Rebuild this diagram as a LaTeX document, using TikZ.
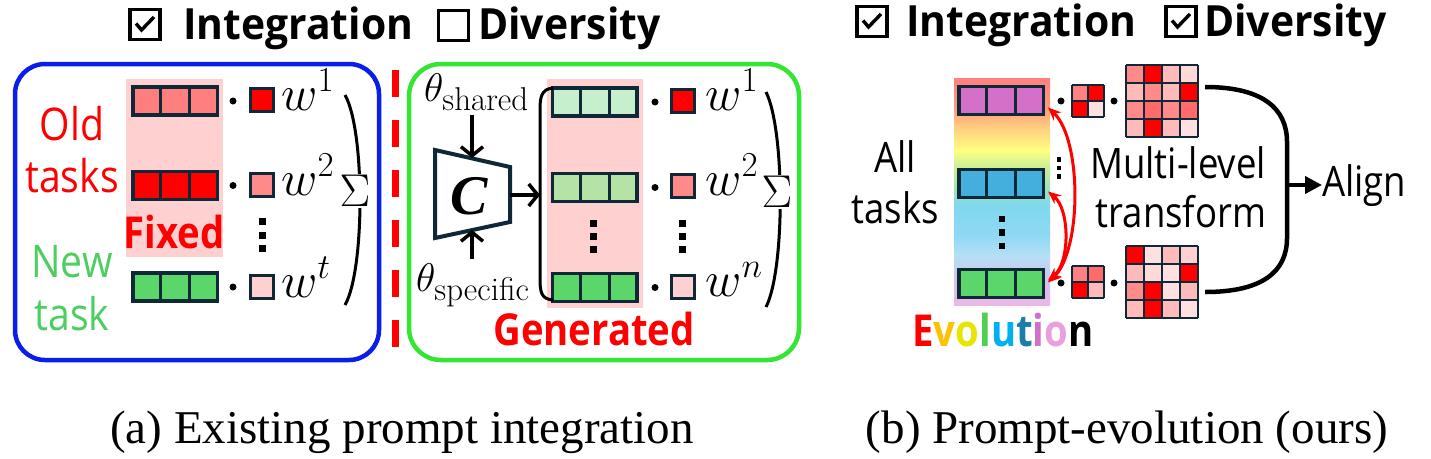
\RequirePackage{fix-cm}
\documentclass[tikz,border=0pt]{standalone}
\usepackage{fontspec}
\usetikzlibrary{arrows.meta}
\newfontfamily\lfont[FakeStretch=0.87]{Open Sans}
\newfontfamily\hfont[FakeStretch=0.95]{Open Sans}
\newfontfamily\capfont{Liberation Serif}
\definecolor{navy}{HTML}{0F2837}
\definecolor{bbox}{HTML}{0A1EEB}
\definecolor{gbox}{HTML}{33E633}
\definecolor{pinkbg}{HTML}{FFD0D0}
\definecolor{rlight}{HTML}{FF7F7F}
\definecolor{rmid}{HTML}{FF8A8A}
\definecolor{gnew}{HTML}{5BD66B}
\definecolor{gtxt}{HTML}{4CCF60}
\definecolor{gl1}{HTML}{C6EFCE}
\definecolor{gl2}{HTML}{B5E3A5}
\definecolor{purp}{HTML}{D570C8}
\definecolor{blu}{HTML}{44AEDD}
\definecolor{sa}{HTML}{FF8080}
\definecolor{sb}{HTML}{FF9A78}
\definecolor{sc}{HTML}{FFC880}
\definecolor{sd}{HTML}{FFFF80}
\definecolor{se}{HTML}{C8EE98}
\definecolor{sf}{HTML}{98E4B8}
\definecolor{sg}{HTML}{80D8EE}
\definecolor{sh}{HTML}{8ED8F4}
\definecolor{si}{HTML}{B4E0F4}
\definecolor{sj}{HTML}{C8CCF0}
\definecolor{sk}{HTML}{D8BEEA}
\definecolor{sl}{HTML}{ECB8E6}
\definecolor{ev1}{HTML}{FF0000}
\definecolor{ev2}{HTML}{FFC000}
\definecolor{ev3}{HTML}{E6E600}
\definecolor{ev4}{HTML}{50D050}
\definecolor{ev5}{HTML}{00B0F0}
\definecolor{ev6}{HTML}{1A7FA8}
\definecolor{ev7}{HTML}{D070C8}
\definecolor{ev8}{HTML}{E8A0E0}
\newcommand\vdsq[4]{\foreach \j in {0,1,2} {\fill ({#1-#4/2},{#2+\j*#3-#4/2}) rectangle ++(#4,#4);}}
\newcommand\drawmat[5]{%
  \foreach \mcc [count=\k from 0] in {#5} {%
    \pgfmathtruncatemacro\mrow{floor(\k/#4)}%
    \pgfmathtruncatemacro\mcol{mod(\k,#4)}%
    \definecolor{mc}{HTML}{\mcc}%
    \fill[mc] ({#1+\mcol*#3},{#2+\mrow*#3}) rectangle ++(#3,#3);%
  }%
  \foreach \i in {0,...,#4} {%
    \draw[navy,line width=2.2pt] ({#1+\i*#3},#2) -- ++(0,{#4*#3});%
    \draw[navy,line width=2.2pt] (#1,{#2+\i*#3}) -- ++({#4*#3},0);%
  }}
\newcommand\chk[1]{\draw[line width=3.4pt,line join=miter] ([shift={(-9pt,1pt)}]#1.center) -- ([shift={(-3.5pt,-5.5pt)}]#1.center) -- ([shift={(9pt,7.5pt)}]#1.center);}
\begin{document}
\begin{tikzpicture}[x=1pt,y=-1pt,
  pbar/.style={draw=navy,line width=3.5pt,minimum width=84.5pt,minimum height=28pt,inner sep=0pt,
    path picture={\draw[navy,line width=3pt]
      ([xshift=-14.5pt]path picture bounding box.north) -- ([xshift=-14.5pt]path picture bounding box.south)
      ([xshift=14.5pt]path picture bounding box.north) -- ([xshift=14.5pt]path picture bounding box.south);}},
  wsq/.style={draw=navy,line width=3pt,minimum size=23pt,inner sep=0pt},
  dotn/.style={circle,fill=black,minimum size=7pt,inner sep=0pt},
  lbl/.style={font=\lfont\fontsize{45}{45}\selectfont,inner sep=0pt,anchor=base},
  blbl/.style={font=\lfont\bfseries\fontsize{44}{44}\selectfont,inner sep=0pt,anchor=base},
  hd/.style={font=\hfont\bfseries\fontsize{43}{43}\selectfont,inner sep=0pt,anchor=base west},
  chkbox/.style={draw=black,line width=3.4pt,minimum size=30pt,inner sep=0pt},
  wl/.style={font=\fontsize{50}{50}\selectfont,inner sep=0pt,anchor=base west},
  sgm/.style={font=\fontsize{46}{46}\selectfont,inner sep=1pt,fill=white},
  captxt/.style={font=\capfont\fontsize{47}{47}\selectfont,inner sep=0pt,anchor=base},
  arr/.style={line width=3.5pt,-{Straight Barb[length=9pt,width=22pt]}},
  redarr/.style={red,line width=3pt,{Stealth[length=13pt,width=11pt]}-{Stealth[length=13pt,width=11pt]}}
]
\useasboundingbox (0,0) rectangle (1431,458);
\fill[white] (0,0) rectangle (1431,458);

% ---------- headers ----------
\node[chkbox] (cb1) at (145,24.5) {};
\chk{cb1}
\node[hd] (h1) at (183,39) {Integration};
\node[chkbox] (cb2) at (453.5,25.5) {};
\node[hd] (h2) at (478,39) {Diversity};
\node[chkbox] (cb3) at (872,21.5) {};
\chk{cb3}
\node[hd] (h3) at (906,36) {Integration};
\node[chkbox] (cb4) at (1181,21.5) {};
\chk{cb4}
\node[hd] (h4) at (1204,36) {Diversity};

% ---------- panel (a) left ----------
\draw[bbox,line width=4.5pt,rounded corners=30pt] (15,64) rectangle (379,360);
\fill[pinkbg] (126,79) rectangle (223,257);
\node[pbar,fill=rlight] (a1) at (175,101) {};
\node[pbar,fill=red] (a2) at (175,185.5) {};
\node[pbar,fill=gnew] (a3) at (175,287) {};
\node[dotn] (ad1) at (233,101) {};
\node[dotn] (ad2) at (233,185.5) {};
\node[dotn] (ad3) at (233,287) {};
\node[wsq,fill=red] (aw1) at (262,100) {};
\node[wsq,fill=rmid] (aw2) at (262,185) {};
\node[wsq,fill=pinkbg] (aw3) at (262,287) {};
\node[wl] (awl1) at (281,110) {$w^{1}$};
\node[wl] (awl2) at (281,195) {$w^{2}$};
\node[wl] (awl3) at (281,297) {$w^{t}$};
\vdsq{262}{221.5}{13.5}{7}
\draw[line width=3pt] (345,95) .. controls (365,130) and (365,270) .. (345,305);
\node[sgm] (sa) at (355,191) {$\Sigma$};
\node[lbl,red] (old1) at (72,140) {Old};
\node[lbl,red] (old2) at (72,192) {tasks};
\node[lbl,text=gtxt] (new1) at (72,277) {New};
\node[lbl,text=gtxt] (new2) at (72,330) {task};
\node[blbl,red] (fixed) at (174,248) {Fixed};

% dashed separator
\draw[red,line width=7pt,dash pattern=on 27pt off 23pt] (395,70) -- (395,347);

% ---------- panel (a) right ----------
\draw[gbox,line width=4.5pt,rounded corners=32pt] (409,64) rectangle (799,360);
\fill[pinkbg] (547,79) rectangle (643,308);
\node[pbar,fill=gl1] (g1) at (594.5,102) {};
\node[pbar,fill=gl2] (g2) at (594.5,187.5) {};
\node[pbar,fill=gnew] (g3) at (594.5,287.5) {};
\node[dotn] (gd1) at (655,102) {};
\node[dotn] (gd2) at (655,187.5) {};
\node[dotn] (gd3) at (655,287.5) {};
\node[wsq,fill=red] (gw1) at (683,101) {};
\node[wsq,fill=rmid] (gw2) at (683,186) {};
\node[wsq,fill=pinkbg] (gw3) at (683,287) {};
\node[wl] (gwl1) at (705,110) {$w^{1}$};
\node[wl] (gwl2) at (705,195) {$w^{2}$};
\node[wl] (gwl3) at (705,296) {$w^{n}$};
\vdsq{593}{223.5}{13}{7}
\vdsq{682}{223.5}{13}{7}
\draw[line width=3pt] (553,88) .. controls (541,89) and (540,98) .. (540,110) -- (540,278) .. controls (540,292) and (541,299) .. (553,300);
\draw[line width=3pt] (766,92) .. controls (785,130) and (785,270) .. (766,307);
\node[sgm] (sb) at (777,192) {$\Sigma$};
\node[blbl,red] (gen) at (594,345) {Generated};
% generator
\draw[navy,line width=4pt,line join=miter] (435,150) -- (510,167) -- (510,222) -- (435,238) -- cycle;
\coordinate (trtop) at (472,158);
\coordinate (trbot) at (472,230);
\coordinate (trright) at (510,195);
\coordinate (brk) at (540,195);
\node[font=\capfont\bfseries\itshape\fontsize{56}{56}\selectfont,inner sep=0pt] (Cl) at (469,196) {C};
\node[font=\fontsize{40}{40}\selectfont,inner sep=0pt,anchor=base west] (thsh) at (424,101)
  {$\theta_{\mbox{\fontsize{33}{33}\selectfont shared}}$};
\node[font=\fontsize{40}{40}\selectfont,inner sep=0pt,anchor=base west] (thsp) at (416,291)
  {$\theta_{\mbox{\fontsize{33}{33}\selectfont specific}}$};
\draw[arr,shorten <=4pt] (thsh.south -| trtop) -- (trtop);
\draw[arr,shorten <=4pt] (thsp.north -| trbot) -- (trbot);
\draw[arr] (trright) -- (brk);

% ---------- panel (b) ----------
\shade[top color=sa,bottom color=sb] (954,78) rectangle (1050,108.4);
\shade[top color=sb,bottom color=sc] (954,108) rectangle (1050,125.4);
\shade[top color=sc,bottom color=sd] (954,125) rectangle (1050,150.4);
\shade[top color=sd,bottom color=se] (954,150) rectangle (1050,168.4);
\shade[top color=se,bottom color=sf] (954,168) rectangle (1050,190.4);
\shade[top color=sf,bottom color=sg] (954,190) rectangle (1050,205.4);
\shade[top color=sg,bottom color=sh] (954,205) rectangle (1050,235.4);
\shade[top color=sh,bottom color=si] (954,235) rectangle (1050,255.4);
\shade[top color=si,bottom color=sj] (954,255) rectangle (1050,272.4);
\shade[top color=sj,bottom color=sk] (954,272) rectangle (1050,290.4);
\shade[top color=sk,bottom color=sl] (954,290) rectangle (1050,305);
\node[pbar,fill=purp] (p1) at (1001,100.5) {};
\node[pbar,fill=blu] (p2) at (1001,183.5) {};
\node[pbar,fill=gnew] (p3) at (1001,283.5) {};
\vdsq{1002}{219}{13.5}{6.5}
\vdsq{1059}{159.5}{8.5}{4.5}
\draw[redarr] ([xshift=3pt,yshift=-7pt]p1.east) .. controls +(34,32) and +(34,-32) .. ([xshift=3pt,yshift=1pt]p3.east);
\draw[redarr] ([xshift=3pt,yshift=-8pt]p2.east) .. controls +(22,18) and +(22,-18) .. ([xshift=3pt,yshift=3pt]p3.east);
\node[dotn] (bd1) at (1061,101) {};
\node[dotn] (bd2) at (1114,101) {};
\node[dotn] (bd3) at (1061,283) {};
\node[dotn] (bd4) at (1114,283) {};
\drawmat{1072}{85}{16}{2}{FF8080,FF0000,FF0000,FFE0E0}
\drawmat{1072}{266}{16}{2}{FF8080,FF6A6A,FF0000,FFBABA}
\drawmat{1126}{65}{18}{4}{FF8A8A,FF0000,FFBABA,FFD8D8,FFBABA,FF8A8A,FFBABA,FF0000,FF8A8A,FF6A6A,FF8A8A,FF6A6A,FFBABA,FF0000,FFBABA,FFE0E0}
\drawmat{1126}{246}{18}{4}{FF0000,FFE0E0,FFBABA,FFD0D0,FFBABA,FFD8D8,FFE0E0,FF0000,FF8A8A,FF0000,FFE0E0,FFBABA,FFBABA,FF0000,FFBABA,FFE0E0}
\coordinate (m1) at (1205,87);
\coordinate (m2) at (1205,292);
\coordinate (brkmid) at (1287,185);
\draw[line width=4.5pt] (m1) .. controls (1262,87) and (1287,108) .. (1287,142) -- (1287,238) .. controls (1287,272) and (1262,292) .. (m2);
\node[lbl,font=\lfont\fontsize{42}{42}\selectfont,anchor=base west] (align) at (1322,196) {Align};
\draw[line width=4pt,-{Triangle[length=17pt,width=17pt]}] (brkmid) -- (brkmid -| align.west);
\node[lbl,font=\lfont\fontsize{42}{42}\selectfont] (all1) at (895,172) {All};
\node[lbl,font=\lfont\fontsize{42}{42}\selectfont] (all2) at (895,223) {tasks};
\node[lbl,font=\lfont\fontsize{42}{42}\selectfont] (ml1) at (1178,178) {Multi-level};
\node[lbl,font=\lfont\fontsize{42}{42}\selectfont] (ml2) at (1181,227) {transform};
\node[blbl,font=\lfont\bfseries\fontsize{44}{44}\selectfont] (evo) at (1003,346)
  {\textcolor{ev1}{E}\textcolor{ev2}{v}\textcolor{ev3}{o}\textcolor{ev4}{l}\textcolor{ev5}{u}\textcolor{ev6}{t}\textcolor{ev7}{i}\textcolor{ev8}{o}n};

% ---------- captions ----------
\node[captxt] (capa) at (402,443) {(a) Existing prompt integration};
\node[captxt] (capb) at (1127,443) {(b) Prompt-evolution (ours)};
\end{tikzpicture}
\end{document}
